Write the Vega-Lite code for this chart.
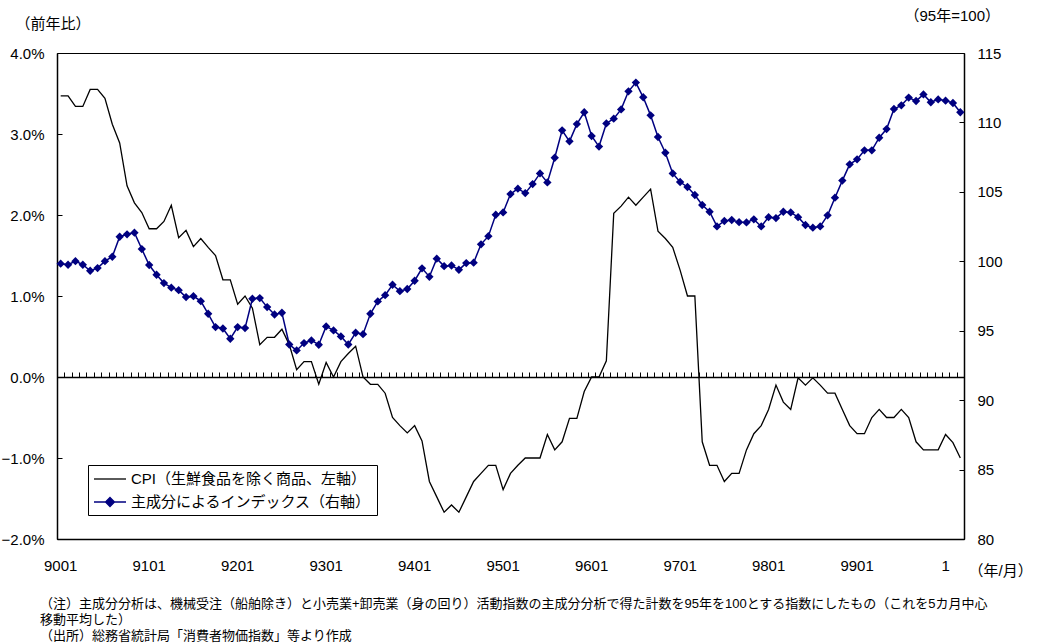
{
"$schema": "https://vega.github.io/schema/vega-lite/v6.json",
"width": 907, "height": 486,
"autosize": "none",
"padding": {"left": 57, "top": 53, "right": 76, "bottom": 105},
"background": "white",
"config": {
  "view": {"stroke": "black", "strokeWidth": 1},
  "font": "Liberation Sans, Noto Sans CJK JP",
  "axis": {"grid": false, "labelFont": "Liberation Sans, Noto Sans CJK JP", "titleFont": "Liberation Sans, Noto Sans CJK JP", "labelColor": "black", "titleColor": "black", "labelFontSize": 15, "titleFontSize": 15, "titleFontWeight": "normal", "domainColor": "black", "tickColor": "black"}
},
"title": {"text": ["（注）主成分分析は、機械受注（船舶除き）と小売業+卸売業（身の回り）活動指数の主成分分析で得た計数を95年を100とする指数にしたもの（これを5カ月中心", "移動平均した）", "（出所）総務省統計局「消費者物価指数」等より作成"], "orient": "bottom", "anchor": "start", "frame": "group", "fontSize": 13, "fontWeight": "normal", "font": "Liberation Sans, Noto Sans CJK JP", "lineHeight": 16, "dx": -17, "offset": 20, "color": "black"},
"data": {"values": [
{"m":"9001","cpi":3.47,"idx":99.83},{"m":"9002","cpi":3.47,"idx":99.75},{"m":"9003","cpi":3.34,"idx":100.01},{"m":"9004","cpi":3.34,"idx":99.75},{"m":"9005","cpi":3.55,"idx":99.32},{"m":"9006","cpi":3.55,"idx":99.51},{"m":"9007","cpi":3.44,"idx":100.01},{"m":"9008","cpi":3.12,"idx":100.33},{"m":"9009","cpi":2.89,"idx":101.77},{"m":"9010","cpi":2.36,"idx":101.94},{"m":"9011","cpi":2.15,"idx":102.06},{"m":"9012","cpi":2.03,"idx":100.88},
{"m":"9101","cpi":1.83,"idx":99.73},{"m":"9102","cpi":1.83,"idx":99.03},{"m":"9103","cpi":1.92,"idx":98.43},{"m":"9104","cpi":2.12,"idx":98.10},{"m":"9105","cpi":1.72,"idx":97.92},{"m":"9106","cpi":1.81,"idx":97.42},{"m":"9107","cpi":1.61,"idx":97.49},{"m":"9108","cpi":1.71,"idx":97.13},{"m":"9109","cpi":1.60,"idx":96.22},{"m":"9110","cpi":1.50,"idx":95.26},{"m":"9111","cpi":1.20,"idx":95.16},{"m":"9112","cpi":1.20,"idx":94.42},
{"m":"9201","cpi":0.90,"idx":95.26},{"m":"9202","cpi":1.00,"idx":95.19},{"m":"9203","cpi":0.85,"idx":97.30},{"m":"9204","cpi":0.40,"idx":97.35},{"m":"9205","cpi":0.49,"idx":96.70},{"m":"9206","cpi":0.49,"idx":96.17},{"m":"9207","cpi":0.59,"idx":96.29},{"m":"9208","cpi":0.40,"idx":94.01},{"m":"9209","cpi":0.09,"idx":93.58},{"m":"9210","cpi":0.19,"idx":94.11},{"m":"9211","cpi":0.19,"idx":94.30},{"m":"9212","cpi":-0.09,"idx":93.99},
{"m":"9301","cpi":0.18,"idx":95.31},{"m":"9302","cpi":0.00,"idx":95.02},{"m":"9303","cpi":0.19,"idx":94.59},{"m":"9304","cpi":0.29,"idx":94.01},{"m":"9305","cpi":0.38,"idx":94.85},{"m":"9306","cpi":0.00,"idx":94.75},{"m":"9307","cpi":-0.09,"idx":96.22},{"m":"9308","cpi":-0.09,"idx":97.11},{"m":"9309","cpi":-0.20,"idx":97.56},{"m":"9310","cpi":-0.50,"idx":98.31},{"m":"9311","cpi":-0.60,"idx":97.85},{"m":"9312","cpi":-0.69,"idx":98.00},
{"m":"9401","cpi":-0.60,"idx":98.60},{"m":"9402","cpi":-0.79,"idx":99.49},{"m":"9403","cpi":-1.29,"idx":98.89},{"m":"9404","cpi":-1.48,"idx":100.19},{"m":"9405","cpi":-1.67,"idx":99.65},{"m":"9406","cpi":-1.58,"idx":99.70},{"m":"9407","cpi":-1.67,"idx":99.39},{"m":"9408","cpi":-1.48,"idx":99.87},{"m":"9409","cpi":-1.29,"idx":99.90},{"m":"9410","cpi":-1.19,"idx":101.22},{"m":"9411","cpi":-1.09,"idx":101.81},{"m":"9412","cpi":-1.09,"idx":103.35},
{"m":"9501","cpi":-1.39,"idx":103.52},{"m":"9502","cpi":-1.19,"idx":104.84},{"m":"9503","cpi":-1.09,"idx":105.23},{"m":"9504","cpi":-1.00,"idx":104.91},{"m":"9505","cpi":-1.00,"idx":105.56},{"m":"9506","cpi":-1.00,"idx":106.33},{"m":"9507","cpi":-0.71,"idx":105.68},{"m":"9508","cpi":-0.90,"idx":107.46},{"m":"9509","cpi":-0.80,"idx":109.43},{"m":"9510","cpi":-0.51,"idx":108.64},{"m":"9511","cpi":-0.51,"idx":109.88},{"m":"9512","cpi":-0.18,"idx":110.73},
{"m":"9601","cpi":0.00,"idx":109.02},{"m":"9602","cpi":0.00,"idx":108.26},{"m":"9603","cpi":0.20,"idx":109.93},{"m":"9604","cpi":2.02,"idx":110.27},{"m":"9605","cpi":2.11,"idx":110.94},{"m":"9606","cpi":2.22,"idx":112.24},{"m":"9607","cpi":2.12,"idx":112.87},{"m":"9608","cpi":2.22,"idx":111.81},{"m":"9609","cpi":2.32,"idx":110.51},{"m":"9610","cpi":1.80,"idx":108.95},{"m":"9611","cpi":1.71,"idx":107.82},{"m":"9612","cpi":1.60,"idx":106.33},
{"m":"9701","cpi":1.32,"idx":105.71},{"m":"9702","cpi":1.00,"idx":105.35},{"m":"9703","cpi":1.00,"idx":104.77},{"m":"9704","cpi":-0.80,"idx":104.05},{"m":"9705","cpi":-1.09,"idx":103.57},{"m":"9706","cpi":-1.09,"idx":102.51},{"m":"9707","cpi":-1.29,"idx":102.90},{"m":"9708","cpi":-1.19,"idx":102.97},{"m":"9709","cpi":-1.19,"idx":102.82},{"m":"9710","cpi":-0.90,"idx":102.80},{"m":"9711","cpi":-0.70,"idx":103.02},{"m":"9712","cpi":-0.60,"idx":102.51},
{"m":"9801","cpi":-0.40,"idx":103.18},{"m":"9802","cpi":-0.10,"idx":103.11},{"m":"9803","cpi":-0.31,"idx":103.57},{"m":"9804","cpi":-0.40,"idx":103.52},{"m":"9805","cpi":-0.01,"idx":103.18},{"m":"9806","cpi":-0.10,"idx":102.61},{"m":"9807","cpi":-0.01,"idx":102.42},{"m":"9808","cpi":-0.10,"idx":102.51},{"m":"9809","cpi":-0.20,"idx":103.31},{"m":"9810","cpi":-0.20,"idx":104.58},{"m":"9811","cpi":-0.40,"idx":105.81},{"m":"9812","cpi":-0.60,"idx":106.98},
{"m":"9901","cpi":-0.70,"idx":107.34},{"m":"9902","cpi":-0.70,"idx":107.99},{"m":"9903","cpi":-0.50,"idx":107.99},{"m":"9904","cpi":-0.40,"idx":108.90},{"m":"9905","cpi":-0.50,"idx":109.52},{"m":"9906","cpi":-0.50,"idx":110.97},{"m":"9907","cpi":-0.40,"idx":111.23},{"m":"9908","cpi":-0.50,"idx":111.79},{"m":"9909","cpi":-0.80,"idx":111.54},{"m":"9910","cpi":-0.90,"idx":112.02},{"m":"9911","cpi":-0.90,"idx":111.45},{"m":"9912","cpi":-0.90,"idx":111.66},
{"m":"0001","cpi":-0.71,"idx":111.57},{"m":"0002","cpi":-0.81,"idx":111.40},{"m":"0003","cpi":-1.00,"idx":110.73}
]},
"layer": [
  {
    "mark": {"type": "line", "strokeWidth": 1.3},
    "encoding": {
      "x": {"field": "m", "type": "ordinal", "sort": null, "scale": {"type": "band", "paddingInner": 0, "paddingOuter": 0},
        "axis": {"orient": "top", "offset": -324, "labels": false, "ticks": true, "tickSize": 5, "tickBand": "extent", "tickWidth": 1, "domain": true, "domainWidth": 1.3, "title": null, "zindex": 1}},
      "y": {"field": "cpi", "type": "quantitative", "scale": {"domain": [-2, 4], "nice": false, "zero": false},
        "axis": {"orient": "left", "values": [-2, -1, 0, 1, 2, 3, 4], "labelExpr": "format(datum.value, '.1f') + '%'", "tickSize": -5, "labelPadding": 18, "domain": true, "domainWidth": 1.5,
          "title": "（前年比）", "titleAngle": 0, "titleAlign": "left", "titleBaseline": "middle", "titleX": -42, "titleY": -30}},
      "color": {"datum": "CPI（生鮮食品を除く商品、左軸）", "type": "nominal",
        "scale": {"domain": ["CPI（生鮮食品を除く商品、左軸）", "主成分によるインデックス（右軸）"], "range": ["black", "#000080"]},
        "legend": {"title": null, "orient": "none", "legendX": 31, "legendY": 412, "direction": "vertical", "fillColor": "white", "strokeColor": "black", "padding": 5, "rowPadding": 6,
          "labelFont": "Liberation Sans, Noto Sans CJK JP", "labelFontSize": 15, "labelColor": "black", "labelLimit": 400, "symbolSize": 256, "symbolStrokeWidth": 1.3, "labelOffset": 20,
          "encode": {"symbols": {"update": {
            "shape": {"signal": "datum.value == 'CPI（生鮮食品を除く商品、左軸）' ? 'M-1,0H3' : 'M-1,0H3M1,-0.56L1.56,0L1,0.56L0.44,0Z'"},
            "fill": {"signal": "datum.value == 'CPI（生鮮食品を除く商品、左軸）' ? 'transparent' : '#000080'"},
            "stroke": {"signal": "datum.value == 'CPI（生鮮食品を除く商品、左軸）' ? 'black' : '#000080'"}
          }}}}
      }
    }
  },
  {
    "mark": {"type": "line", "strokeWidth": 1.5, "point": {"shape": "diamond", "size": 70, "filled": true}},
    "encoding": {
      "x": {"field": "m", "type": "ordinal", "sort": null,
        "axis": {"orient": "bottom", "ticks": false, "labelPadding": 19, "labelAngle": 0, "labelOverlap": false, "labelExpr": "substring(datum.value, 2, 4) == '01' ? (datum.value == '0001' ? '1' : datum.value) : ''", "domain": true, "domainWidth": 1.5,
          "title": "（年/月）", "titleAlign": "left", "titleBaseline": "middle", "titleX": 911, "titleY": 31}},
      "y": {"field": "idx", "type": "quantitative", "scale": {"domain": [80, 115], "nice": false, "zero": false},
        "axis": {"orient": "right", "values": [80, 85, 90, 95, 100, 105, 110, 115], "tickSize": -5, "labelPadding": 18, "domain": true, "domainWidth": 1.5,
          "title": "（95年=100）", "titleAngle": 0, "titleAlign": "left", "titleBaseline": "middle", "titleX": -60, "titleY": -38}},
      "color": {"datum": "主成分によるインデックス（右軸）", "type": "nominal"}
    }
  }
],
"resolve": {"scale": {"y": "independent"}, "axis": {"x": "independent"}}
}
